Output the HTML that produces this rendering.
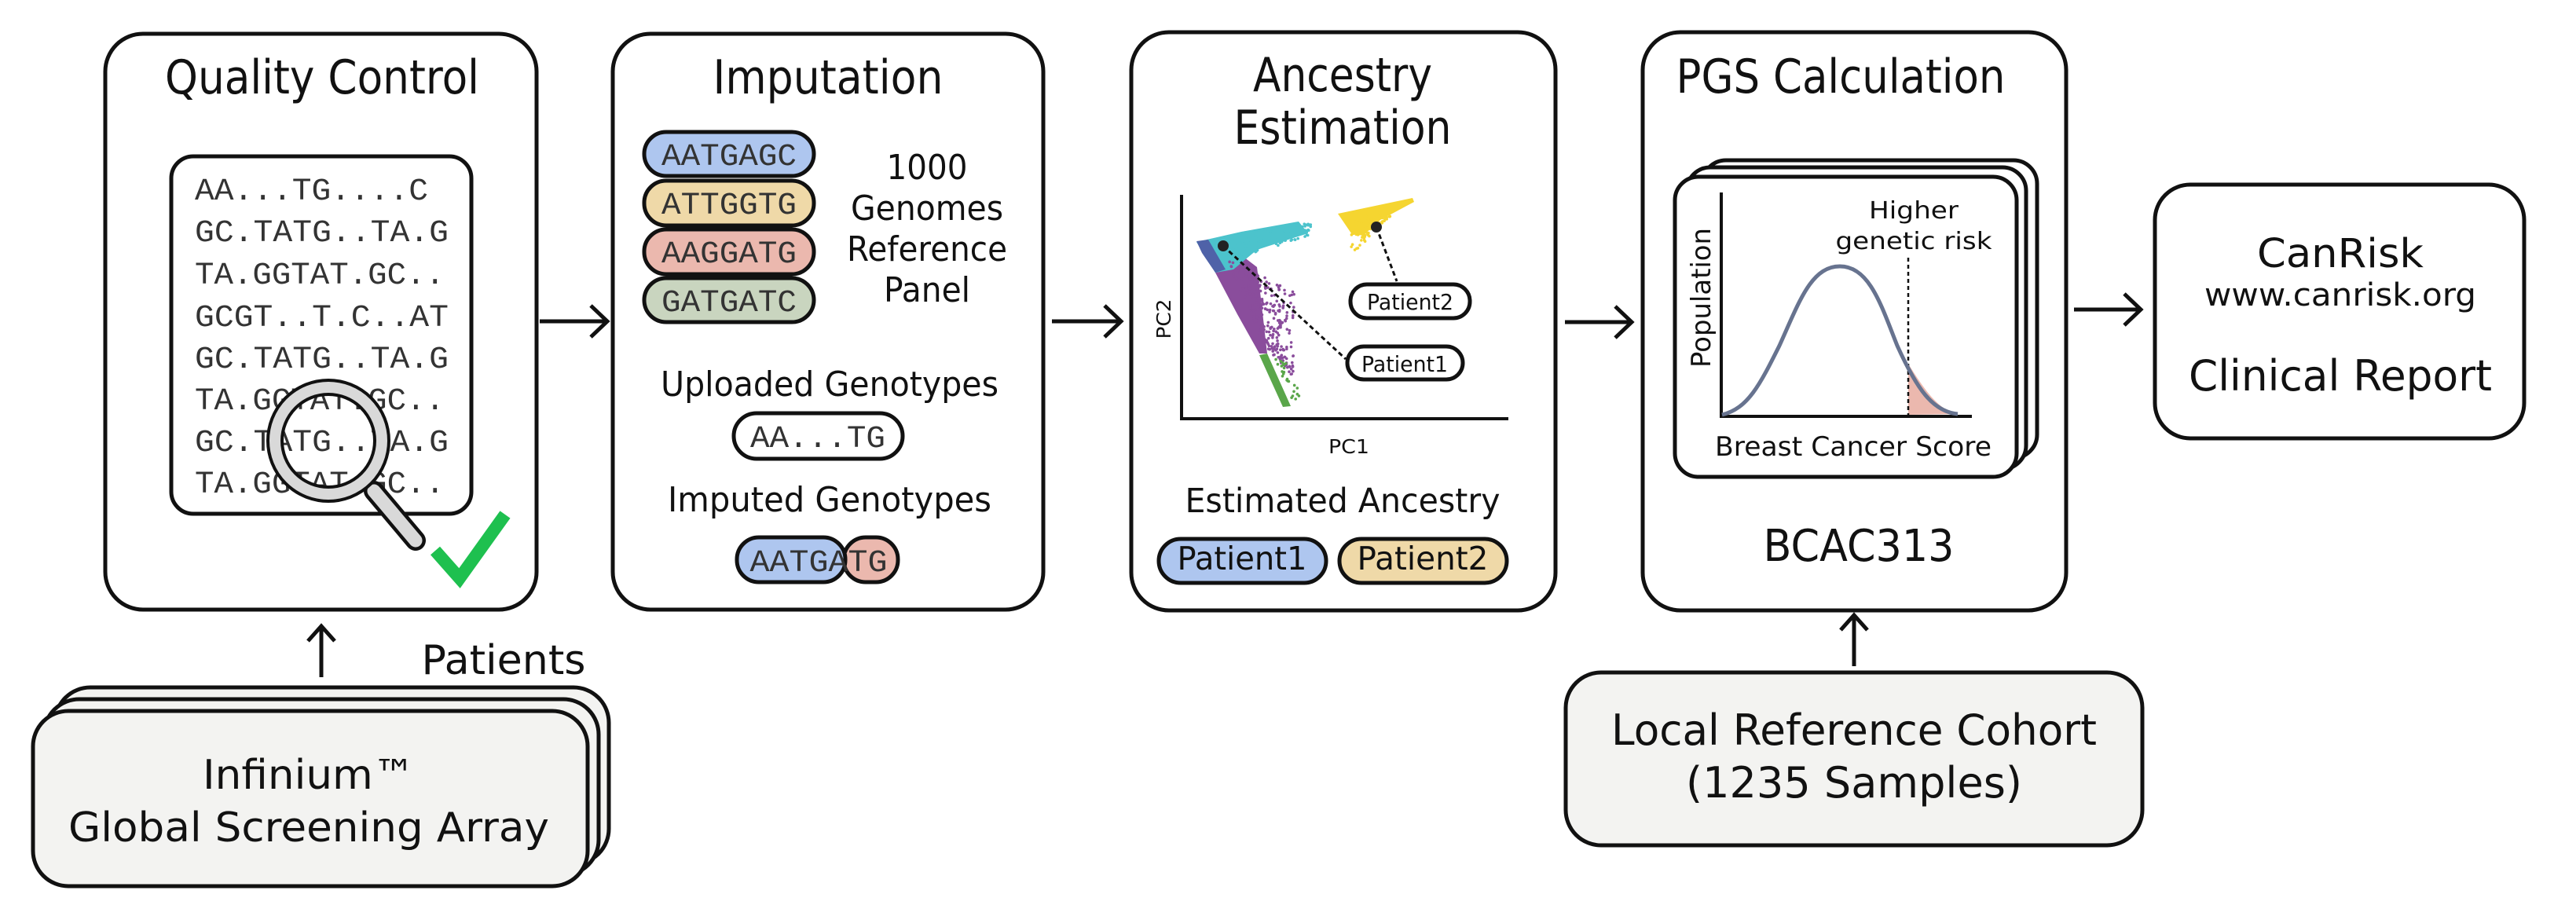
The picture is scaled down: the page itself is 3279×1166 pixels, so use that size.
<!DOCTYPE html>
<html><head><meta charset="utf-8"><style>
html,body{margin:0;padding:0;background:#fff}
svg{display:block}
text{font-family:"DejaVu Sans","Liberation Sans",sans-serif;fill:#111}
.m{font-family:"Liberation Mono","DejaVu Sans Mono",monospace;fill:#333}
</style></head><body>
<svg id="s" width="3279" height="1166" viewBox="0 0 3279 1166" xmlns="http://www.w3.org/2000/svg">
<g fill="#fff" stroke="#111" stroke-width="5">
<rect x="134" y="43" width="549" height="733" rx="48"/>
<rect x="780" y="43" width="548" height="733" rx="48"/>
<rect x="1440" y="41" width="540" height="736" rx="48"/>
<rect x="2091" y="41" width="539" height="736" rx="48"/>
<rect x="2743" y="235" width="470" height="323" rx="45"/>
</g>
<g fill="#f3f3f1" stroke="#111" stroke-width="5">
<rect x="70" y="875" width="705" height="225" rx="45"/>
<rect x="56" y="890" width="706" height="224" rx="45"/>
<rect x="42" y="905" width="706" height="223" rx="45"/>
<rect x="1993" y="856" width="734" height="220" rx="45"/>
</g>
<text x="410" y="119" font-size="60" text-anchor="middle" textLength="400" lengthAdjust="spacingAndGlyphs">Quality Control</text>
<text x="1054" y="119" font-size="60" text-anchor="middle" textLength="293" lengthAdjust="spacingAndGlyphs">Imputation</text>
<text x="1709" y="116" font-size="60" text-anchor="middle" textLength="228" lengthAdjust="spacingAndGlyphs">Ancestry</text>
<text x="1709" y="183" font-size="60" text-anchor="middle" textLength="277" lengthAdjust="spacingAndGlyphs">Estimation</text>
<text x="2343" y="118" font-size="60" text-anchor="middle" textLength="419" lengthAdjust="spacingAndGlyphs">PGS Calculation</text>
<rect x="218" y="199" width="382" height="455" rx="28" fill="#fff" stroke="#111" stroke-width="5"/>
<g class="m" font-size="40">
<text class="m" x="248" y="254" textLength="297" lengthAdjust="spacingAndGlyphs">AA...TG....C</text>
<text class="m" x="248" y="307" textLength="323" lengthAdjust="spacingAndGlyphs">GC.TATG..TA.G</text>
<text class="m" x="248" y="361" textLength="318" lengthAdjust="spacingAndGlyphs">TA.GGTAT.GC..</text>
<text class="m" x="248" y="415" textLength="323" lengthAdjust="spacingAndGlyphs">GCGT..T.C..AT</text>
<text class="m" x="248" y="468" textLength="323" lengthAdjust="spacingAndGlyphs">GC.TATG..TA.G</text>
<text class="m" x="248" y="521" textLength="318" lengthAdjust="spacingAndGlyphs">TA.GGTAT.GC..</text>
<text class="m" x="248" y="574" textLength="323" lengthAdjust="spacingAndGlyphs">GC.TATG..TA.G</text>
<text class="m" x="248" y="627" textLength="318" lengthAdjust="spacingAndGlyphs">TA.GGTAT.GC..</text>
</g>
<line x1="476" y1="625" x2="529" y2="688" stroke="#111" stroke-width="26" stroke-linecap="round"/>
<line x1="476" y1="625" x2="529" y2="688" stroke="#d9d9d9" stroke-width="17" stroke-linecap="round"/>
<circle cx="418" cy="561" r="68" fill="none" stroke="#111" stroke-width="22"/>
<circle cx="418" cy="561" r="68" fill="none" stroke="#d9d9d9" stroke-width="14"/>
<polyline points="554,701 585,736 643,655" fill="none" stroke="#1ec04f" stroke-width="16"/>
<g stroke="#111" stroke-width="5" fill="none">
<line x1="687" y1="409" x2="773" y2="409"/><polyline points="752,389 773,409 752,429"/>
<line x1="1339" y1="409" x2="1427" y2="409"/><polyline points="1406,389 1427,409 1406,429"/>
<line x1="1992" y1="410" x2="2077" y2="410"/><polyline points="2056,390 2077,410 2056,430"/>
<line x1="2640" y1="394" x2="2725" y2="394"/><polyline points="2704,374 2725,394 2704,414"/>
<line x1="409" y1="862" x2="409" y2="797"/><polyline points="392,816 409,797 426,816"/>
<line x1="2360" y1="848" x2="2360" y2="783"/><polyline points="2343,802 2360,783 2377,802"/>
</g>
<g stroke="#111" stroke-width="5">
<rect x="820" y="168" width="216" height="56" rx="28" fill="#aec6ef"/>
<rect x="820" y="230" width="216" height="57" rx="28" fill="#efd9a8"/>
<rect x="820" y="292" width="216" height="57" rx="28" fill="#ebb8ae"/>
<rect x="820" y="354" width="216" height="56" rx="28" fill="#c9d5bf"/>
<rect x="934" y="526" width="215" height="58" rx="29" fill="#fff"/>
<rect x="1074" y="684" width="69" height="57" rx="28" fill="#ebb8ae"/>
<rect x="938" y="684" width="138" height="57" rx="28" fill="#aec6ef"/>
</g>
<text class="m" x="928" y="210" font-size="40" text-anchor="middle" textLength="172" lengthAdjust="spacingAndGlyphs">AATGAGC</text>
<text class="m" x="928" y="272" font-size="40" text-anchor="middle" textLength="172" lengthAdjust="spacingAndGlyphs">ATTGGTG</text>
<text class="m" x="928" y="334" font-size="40" text-anchor="middle" textLength="172" lengthAdjust="spacingAndGlyphs">AAGGATG</text>
<text class="m" x="928" y="396" font-size="40" text-anchor="middle" textLength="172" lengthAdjust="spacingAndGlyphs">GATGATC</text>
<text class="m" x="1041" y="569" font-size="40" text-anchor="middle" textLength="172" lengthAdjust="spacingAndGlyphs">AA...TG</text>
<text class="m" x="1042" y="727" font-size="40" text-anchor="middle" textLength="175" lengthAdjust="spacingAndGlyphs">AATGATG</text>
<g font-size="44" text-anchor="middle">
<text x="1180" y="228" textLength="103" lengthAdjust="spacingAndGlyphs">1000</text>
<text x="1180" y="280" textLength="194" lengthAdjust="spacingAndGlyphs">Genomes</text>
<text x="1180" y="332" textLength="204" lengthAdjust="spacingAndGlyphs">Reference</text>
<text x="1180" y="384" textLength="110" lengthAdjust="spacingAndGlyphs">Panel</text>
<text x="1056" y="504" textLength="430" lengthAdjust="spacingAndGlyphs">Uploaded Genotypes</text>
<text x="1056" y="651" textLength="412" lengthAdjust="spacingAndGlyphs">Imputed Genotypes</text>
</g>
<text x="641" y="858" font-size="52" text-anchor="middle" textLength="209" lengthAdjust="spacingAndGlyphs">Patients</text>
<text x="393" y="1004" font-size="52" text-anchor="middle" textLength="270" lengthAdjust="spacingAndGlyphs">Infinium™</text>
<text x="393" y="1071" font-size="52" text-anchor="middle" textLength="612" lengthAdjust="spacingAndGlyphs">Global Screening Array</text>
<text x="2360" y="948" font-size="54" text-anchor="middle" textLength="618" lengthAdjust="spacingAndGlyphs">Local Reference Cohort</text>
<text x="2360" y="1015" font-size="54" text-anchor="middle" textLength="428" lengthAdjust="spacingAndGlyphs">(1235 Samples)</text>
<g stroke="#111" stroke-width="4" fill="none"><polyline points="1504,248 1504,533 1920,533"/></g>
<polygon points="1547,347 1583,327 1600,340 1605,380 1613,450 1603,450 1575,400" fill="#8a4d9c"/>
<polygon points="1603,452 1613,450 1643,517 1633,518" fill="#5aa64a"/>
<polygon points="1523,308 1580,295 1653,282 1665,297 1640,305 1600,318 1570,343 1547,347" fill="#4cc3cc"/>
<polygon points="1523,307 1538,305 1560,343 1547,347 1530,322" fill="#4f62a8"/>
<polygon points="1703,272 1798,252 1800,257 1757,280 1735,300 1720,297" fill="#f5d530"/>
<g id="dots"></g>
<g stroke="#111" stroke-width="3" stroke-dasharray="6,4" fill="none">
<line x1="1557" y1="313" x2="1713" y2="457"/>
<line x1="1752" y1="289" x2="1778" y2="358"/>
</g>
<circle cx="1557" cy="313" r="7" fill="#222"/>
<circle cx="1752" cy="289" r="7" fill="#222"/>
<g stroke="#111" stroke-width="5" fill="#fff">
<rect x="1719" y="362" width="152" height="43" rx="21"/>
<rect x="1715" y="441" width="147" height="42" rx="21"/>
</g>
<text x="1795" y="394" font-size="28" text-anchor="middle" textLength="110" lengthAdjust="spacingAndGlyphs">Patient2</text>
<text x="1788" y="473" font-size="28" text-anchor="middle" textLength="110" lengthAdjust="spacingAndGlyphs">Patient1</text>
<text x="1717" y="577" font-size="25" text-anchor="middle" textLength="52" lengthAdjust="spacingAndGlyphs">PC1</text>
<text transform="translate(1490,406) rotate(-90)" font-size="25" text-anchor="middle" textLength="51" lengthAdjust="spacingAndGlyphs">PC2</text>
<text x="1709" y="652" font-size="43" text-anchor="middle" textLength="401" lengthAdjust="spacingAndGlyphs">Estimated Ancestry</text>
<g stroke="#111" stroke-width="5">
<rect x="1475" y="686" width="213" height="56" rx="28" fill="#aec6ef"/>
<rect x="1705" y="686" width="213" height="56" rx="28" fill="#efd9a8"/>
</g>
<text x="1581" y="725" font-size="41" text-anchor="middle" textLength="165" lengthAdjust="spacingAndGlyphs">Patient1</text>
<text x="1811" y="725" font-size="41" text-anchor="middle" textLength="167" lengthAdjust="spacingAndGlyphs">Patient2</text>
<g fill="#fff" stroke="#111" stroke-width="5">
<rect x="2167" y="204" width="426" height="379" rx="30"/>
<rect x="2147" y="213" width="432" height="384" rx="30"/>
<rect x="2132" y="225" width="435" height="382" rx="30"/>
</g>
<path d="M2429,463 C2455,505 2470,522 2492,527 L2429,528 Z" fill="#ebb8ae"/>
<g stroke="#111" stroke-width="4" fill="none"><polyline points="2191,245 2191,530 2510,530"/></g>
<line x1="2429" y1="328" x2="2429" y2="528" stroke="#111" stroke-width="2.5" stroke-dasharray="5,4"/>
<path d="M2192,528 C2225,520 2240,490 2265,440 C2290,385 2305,339 2342,339 C2380,339 2395,390 2415,440 C2440,495 2460,524 2492,527" fill="none" stroke="#67738f" stroke-width="5"/>
<text x="2436" y="278" font-size="30" text-anchor="middle" textLength="114" lengthAdjust="spacingAndGlyphs">Higher</text>
<text x="2436" y="317" font-size="30" text-anchor="middle" textLength="199" lengthAdjust="spacingAndGlyphs">genetic risk</text>
<text x="2359" y="580" font-size="34" text-anchor="middle" textLength="352" lengthAdjust="spacingAndGlyphs">Breast Cancer Score</text>
<text transform="translate(2177,379) rotate(-90)" font-size="34" text-anchor="middle" textLength="178" lengthAdjust="spacingAndGlyphs">Population</text>
<text x="2366" y="714" font-size="56" text-anchor="middle" textLength="243" lengthAdjust="spacingAndGlyphs">BCAC313</text>
<text x="2979" y="340" font-size="51" text-anchor="middle" textLength="212" lengthAdjust="spacingAndGlyphs">CanRisk</text>
<text x="2979" y="389" font-size="40" text-anchor="middle" textLength="346" lengthAdjust="spacingAndGlyphs">www.canrisk.org</text>
<text x="2979" y="497" font-size="54" text-anchor="middle" textLength="386" lengthAdjust="spacingAndGlyphs">Clinical Report</text>
</svg>
<script>
(function(){
var g=document.getElementById('dots'),s=12345;
function r(){s=(s*16807)%2147483647;return s/2147483647;}
function add(c,n,f){for(var i=0;i<n;i++){var p=f();var e=document.createElementNS('http://www.w3.org/2000/svg','circle');e.setAttribute('cx',p[0]);e.setAttribute('cy',p[1]);e.setAttribute('r',1.8);e.setAttribute('fill',c);g.appendChild(e);}}
add('#8a4d9c',260,function(){var t=r(),u=r();return [1560+t*50+u*90*(1-t*0.6),330+t*110+u*40];});
add('#4cc3cc',120,function(){var t=r(),u=r();return [1560+t*110,300-t*18+u*35*(1-t*0.5)];});
add('#f5d530',90,function(){var t=r(),u=r();return [1720+t*50,275+u*50*(1-t)];});
add('#5aa64a',25,function(){var t=r(),u=r();return [1620+t*25+u*15,450+t*60];});
})();
</script>
</body></html>
